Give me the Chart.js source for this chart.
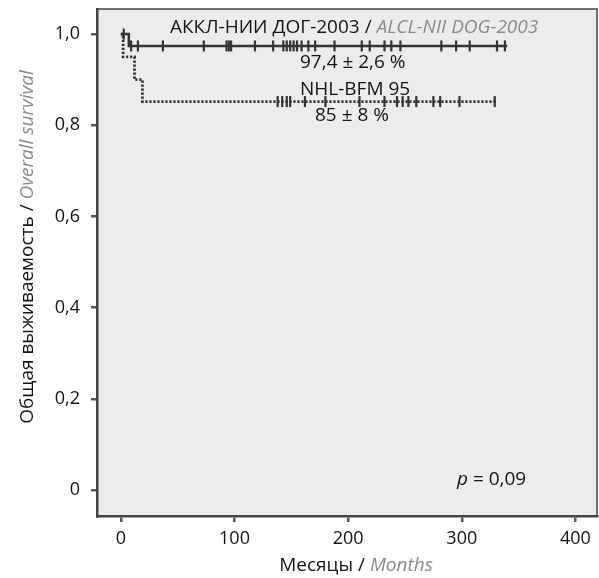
<!DOCTYPE html>
<html>
<head>
<meta charset="utf-8">
<script src="https://cdn.jsdelivr.net/npm/chart.js@4/dist/chart.umd.min.js"></script>
<style>
  html, body { margin: 0; padding: 0; background: #ffffff; }
  #wrap { width: 599px; height: 578px; }
</style>
</head>
<body>
<div id="wrap"><canvas id="c" width="599" height="578"></canvas></div>
<script>
// ---- Data ----
const alclTimes = [0, 7, 340];
const alclSurv  = [1.0, 0.974, 0.974];
const alclCensor = [2.5, 9, 15, 37, 73, 93, 95, 97, 118, 134, 143, 146, 149, 152, 155, 159, 165, 171, 188, 212, 219, 232, 238, 246, 282, 295, 307, 331, 338];

const bfmTimes = [0, 2, 12, 19, 330];
const bfmSurv  = [1.0, 0.95, 0.90, 0.852, 0.852];
const bfmCensor = [138, 142, 146, 149, 162, 180, 210, 232, 243, 248, 253, 260, 275, 281, 298, 329];

const xTicks = [0, 100, 200, 300, 400];
const yTicks = [0, 0.2, 0.4, 0.6, 0.8, 1.0];
const yTickLabels = ['0', '0,2', '0,4', '0,6', '0,8', '1,0'];

function curvePoints(times, surv) {
  return times.map((t, i) => ({ x: t, y: surv[i] }));
}
function survAt(times, surv, t) {
  let s = surv[0];
  for (let i = 0; i < times.length; i++) { if (times[i] <= t) s = surv[i]; }
  return s;
}
function censorPoints(ct, times, surv) {
  return ct.map(t => ({ x: t, y: survAt(times, surv, t) }));
}

const FONT = "'Open Sans', 'DejaVu Sans', sans-serif";
const INK = '#141414';
const GREY = '#8a8a8a';

const decor = {
  id: 'decor',
  beforeDraw(chart) {
    const { ctx, chartArea: a } = chart;
    ctx.save();
    ctx.fillStyle = '#ececec';
    ctx.fillRect(a.left, a.top, a.right - a.left, a.bottom - a.top);
    ctx.strokeStyle = '#444';
    ctx.lineWidth = 1.5;
    ctx.strokeRect(a.left, a.top, a.right - a.left, a.bottom - a.top);
    ctx.restore();
  },
  afterDraw(chart) {
    const { ctx } = chart;
    ctx.save();
    ctx.textBaseline = 'alphabetic';
    function mixed(x, y, parts, align) {
      let total = 0;
      parts.forEach(p => { ctx.font = p.font; total += ctx.measureText(p.text).width; });
      let cx = align === 'center' ? x - total / 2 : x;
      ctx.textAlign = 'left';
      parts.forEach(p => {
        ctx.font = p.font; ctx.fillStyle = p.color;
        ctx.fillText(p.text, cx, y);
        cx += ctx.measureText(p.text).width;
      });
    }
    const N = '19px ' + FONT, I = 'italic 19px ' + FONT;
    // series labels
    mixed(170, 33, [{ text: 'АККЛ-НИИ ДОГ-2003 / ', font: N, color: INK }, { text: 'ALCL-NII DOG-2003', font: I, color: GREY }]);
    mixed(300, 68, [{ text: '97,4 ± 2,6 %', font: N, color: INK }]);
    mixed(300, 95, [{ text: 'NHL-BFM 95', font: N, color: INK }]);
    mixed(315, 121, [{ text: '85 ± 8 %', font: N, color: INK }]);
    mixed(457, 485, [{ text: 'p', font: I, color: INK }, { text: ' = 0,09', font: N, color: INK }]);
    // axis titles
    mixed(356, 571, [{ text: 'Месяцы / ', font: N, color: INK }, { text: 'Months', font: I, color: GREY }], 'center');
    ctx.save();
    ctx.translate(33, 247);
    ctx.rotate(-Math.PI / 2);
    mixed(0, 0, [{ text: 'Общая выживаемость / ', font: N, color: INK }, { text: 'Overall survival', font: I, color: GREY }], 'center');
    ctx.restore();
    ctx.restore();
  }
};

new Chart(document.getElementById('c'), {
  type: 'scatter',
  data: {
    datasets: [
      {
        label: 'ALCL-NII DOG-2003',
        data: curvePoints(alclTimes, alclSurv),
        showLine: true, stepped: 'before',
        borderColor: '#333', borderWidth: 2.5,
        pointRadius: 0, fill: false, order: 2
      },
      {
        label: 'NHL-BFM 95',
        data: curvePoints(bfmTimes, bfmSurv),
        showLine: true, stepped: 'before',
        borderColor: '#333', borderWidth: 2.8, borderDash: [2.2, 1.8],
        pointRadius: 0, fill: false, order: 2
      },
      {
        label: 'ALCL censored',
        data: censorPoints(alclCensor, alclTimes, alclSurv),
        showLine: false, pointStyle: 'line', rotation: 90,
        pointRadius: 5.5, pointBorderWidth: 2.2, pointBorderColor: '#333', order: 1
      },
      {
        label: 'BFM censored',
        data: censorPoints(bfmCensor, bfmTimes, bfmSurv),
        showLine: false, pointStyle: 'line', rotation: 90,
        pointRadius: 5.5, pointBorderWidth: 2.2, pointBorderColor: '#333', order: 1
      }
    ]
  },
  options: {
    responsive: false,
    animation: false,
    devicePixelRatio: 1,
    layout: { autoPadding: false, padding: { top: 9, right: 2, left: 0, bottom: 0 } },
    plugins: { legend: { display: false }, tooltip: { enabled: false } },
    scales: {
      x: {
        type: 'linear', min: -21, max: 419,
        afterBuildTicks: s => { s.ticks = xTicks.map(v => ({ value: v })); },
        afterFit: s => { s.height = 62; s.paddingLeft = 0; s.paddingRight = 0; },
        ticks: { color: INK, font: { family: FONT, size: 18 }, padding: 6, maxRotation: 0 },
        grid: { drawOnChartArea: false, drawTicks: true, tickLength: 6, color: '#555', lineWidth: 2.5 },
        border: { display: true, color: '#444', width: 2.5 }
      },
      y: {
        type: 'linear', min: -0.057, max: 1.055,
        afterBuildTicks: s => { s.ticks = yTicks.map(v => ({ value: v })); },
        afterFit: s => { s.width = 97; s.paddingTop = 0; s.paddingBottom = 0; },
        ticks: {
          color: INK, font: { family: FONT, size: 18 }, padding: 11,
          callback: (v) => { const i = yTicks.findIndex(t => Math.abs(t - v) < 1e-6); return i >= 0 ? yTickLabels[i] : ''; }
        },
        grid: { drawOnChartArea: false, drawTicks: true, tickLength: 6, color: '#555', lineWidth: 2.5 },
        border: { display: true, color: '#444', width: 2.5 }
      }
    }
  },
  plugins: [decor]
});
</script>
</body>
</html>
